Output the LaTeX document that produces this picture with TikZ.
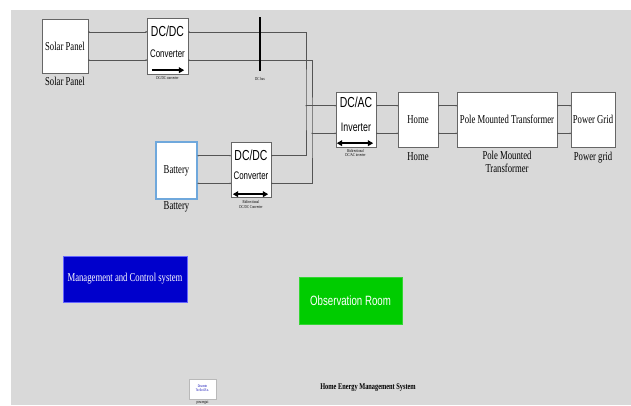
\documentclass[tikz,border=0pt]{standalone}
\usepackage{fontspec}
\setmainfont{Liberation Serif}
\setsansfont{Liberation Sans}
\usepackage{graphicx}
\usetikzlibrary{arrows.meta,positioning,calc}

\definecolor{canvas}{HTML}{D9D9D9}
\definecolor{mcsblue}{HTML}{0000CC}
\definecolor{obsgreen}{HTML}{00CC00}
\definecolor{batblue}{HTML}{6FA8DC}
\definecolor{wirecol}{HTML}{555555}
\newcommand{\sq}[1]{\scalebox{0.72}[1]{#1}}
\newcommand{\sqstack}[1]{\scalebox{0.72}[1]{\begin{tabular}{@{}c@{}}#1\end{tabular}}}

\begin{document}
\begin{tikzpicture}[x=0.4mm, y=-0.4mm,
  blk/.style={draw=gray!80!black, fill=white, line width=0.4pt, inner sep=0pt},
  lbl/.style={font=\fontsize{13.7}{15.3}\selectfont, inner sep=0pt},
  conv/.style={font=\sffamily\fontsize{16.5}{18}\selectfont, inner sep=0pt},
  convsub/.style={font=\sffamily\fontsize{12.5}{14}\selectfont, inner sep=0pt},
  tinylbl/.style={font=\fontsize{5}{5.6}\selectfont, inner sep=0pt},
  wire/.style={draw=wirecol, line width=0.5pt, {Circle[length=1.6pt]}-{Circle[length=1.6pt]}},
  branch/.style={draw=wirecol, line width=0.5pt, -{Circle[length=1.6pt]}},
  flow/.style={line width=1.8pt, -{Triangle[length=6pt,width=6.5pt]}},
  bothflow/.style={line width=1.8pt, {Triangle[length=6pt,width=6.5pt]}-{Triangle[length=6pt,width=6.5pt]}},
]
\useasboundingbox (0,0) rectangle (631,405);
\fill[canvas] (11,10) rectangle (631,405);

% source side
\node[blk, lbl, minimum width=18.4mm, minimum height=21.6mm] (sp) at (65,46) {\sq{Solar Panel}};
\node[blk, minimum width=16.4mm, minimum height=22.4mm] (dc1) at (167.5,46) {};
\node[blk, draw=batblue, line width=1.2pt, lbl, minimum width=16.4mm, minimum height=22.8mm] (bat) at (176.5,170.5) {\sq{Battery}};
\node[blk, minimum width=16mm, minimum height=22mm] (dc2) at (251,169.5) {};

% load / grid side
\node[blk, minimum width=16mm, minimum height=22mm] (dcac) at (356,119.5) {};
\node[blk, lbl, minimum width=16mm, minimum height=22mm] (home) at (418,119.5) {\sq{Home}};
\node[blk, lbl, minimum width=40mm, minimum height=22mm] (pmt) at (507,119.5) {\sq{Pole Mounted Transformer}};
\node[blk, lbl, minimum width=17.6mm, minimum height=22mm] (grid) at (593,119.5) {\sq{Power Grid}};

% converter faces
\node[conv] (dc1a) at ($(dc1.north)+(0,13)$) {\sq{DC/DC}};
\node[convsub] (dc1b) at ($(dc1.north)+(0,36)$) {\sq{Converter}};
\draw[flow] ($(dc1.south west)+(5,-4)$) -- ($(dc1.south east)+(-4,-4)$);
\node[conv] (dc2a) at ($(dc2.north)+(0,13)$) {\sq{DC/DC}};
\node[convsub] (dc2b) at ($(dc2.north)+(0,34)$) {\sq{Converter}};
\draw[bothflow] ($(dc2.south west)+(2,-3)$) -- ($(dc2.south east)+(-3,-3)$);
\node[conv] (dcaca) at ($(dcac.north)+(0,10)$) {\sq{DC/AC}};
\node[convsub, font=\sffamily\fontsize{14}{16}\selectfont] (dcacb) at ($(dcac.north)+(0,35)$) {\sq{Inverter}};
\draw[bothflow] ($(dcac.south west)+(1,-4)$) -- ($(dcac.south east)+(-3,-4)$);

% port points
\coordinate (dc1i1) at ($(dc1.north west)!.25!(dc1.south west)$);
\coordinate (dc1i2) at ($(dc1.north west)!.75!(dc1.south west)$);
\coordinate (dc1o1) at ($(dc1.north east)!.25!(dc1.south east)$);
\coordinate (dc1o2) at ($(dc1.north east)!.75!(dc1.south east)$);
\coordinate (dc2i1) at ($(dc2.north west)!.25!(dc2.south west)$);
\coordinate (dc2i2) at ($(dc2.north west)!.75!(dc2.south west)$);
\coordinate (dc2o1) at ($(dc2.north east)!.25!(dc2.south east)$);
\coordinate (dc2o2) at ($(dc2.north east)!.75!(dc2.south east)$);
\coordinate (aci1) at ($(dcac.north west)!.25!(dcac.south west)$);
\coordinate (aci2) at ($(dcac.north west)!.75!(dcac.south west)$);
\coordinate (ac1) at ($(dcac.north east)!.25!(dcac.south east)$);
\coordinate (ac2) at ($(dcac.north east)!.75!(dcac.south east)$);
\coordinate (pm1) at ($(pmt.north east)!.25!(pmt.south east)$);
\coordinate (pm2) at ($(pmt.north east)!.75!(pmt.south east)$);
\coordinate (bendA) at (306,0);
\coordinate (bendB) at (312,0);
\coordinate (j1) at (aci1 -| bendA);
\coordinate (j2) at (aci2 -| bendB);

% wiring
\draw[wire] (dc1i1 -| sp.east) -- (dc1i1);
\draw[wire] (dc1i2 -| sp.east) -- (dc1i2);
\draw[wire] (dc1o1) -| (j1) |- (dc2o1);
\draw[wire] (dc1o2) -| (j2) |- (dc2o2);
\draw[wire] (dc2i1 -| bat.east) -- (dc2i1);
\draw[wire] (dc2i2 -| bat.east) -- (dc2i2);
\draw[branch] (j1) -- (aci1);
\draw[branch] (j2) -- (aci2);
\fill[wirecol] (j1) circle (0.7pt) (j2) circle (0.7pt);
\draw[wire] (ac1) -- (ac1 -| home.west);
\draw[wire] (ac2) -- (ac2 -| home.west);
\draw[wire] (ac1 -| home.east) -- (ac1 -| pmt.west);
\draw[wire] (ac2 -| home.east) -- (ac2 -| pmt.west);
\draw[wire] (pm1) -- (pm1 -| grid.west);
\draw[wire] (pm2) -- (pm2 -| grid.west);

% DC bus bar
\node[fill=black, inner sep=0pt, minimum width=0.8mm, minimum height=21.6mm] (bus) at (260,44) {};

% block names
\node[lbl] (splbl) at (65,81.5) {\sq{Solar Panel}};
\node[lbl] (batlbl) at (176.5,207) {\sq{Battery}};
\node[lbl] (homelbl) at (418,157) {\sq{Home}};
\node[lbl] (pmtlbl) at (507,163.5) {\sqstack{Pole Mounted\\Transformer}};
\node[lbl] (gridlbl) at (593,157.5) {\sq{Power grid}};
\node[tinylbl] (dc1lbl) at (167.5,78) {\sq{DC/DC converter}};
\node[tinylbl] (buslbl) at (260,78.5) {\sq{DC bus}};
\node[tinylbl] (dc2lbl) at (251,205) {\sqstack{Bidirectional\\DC/DC Converter}};
\node[tinylbl] (dcaclbl) at (355.5,153.5) {\sqstack{Bidirectional\\DC/AC inverter}};

% lower blocks
\node[lbl, draw=blue!60, fill=mcsblue, text=white, line width=0.6pt, minimum width=49.6mm, minimum height=18.4mm] (mcs) at (125,279) {\sq{Management and Control system}};
\node[draw=obsgreen!80!white, fill=obsgreen, text=white, inner sep=0pt, font=\sffamily\fontsize{15.3}{17}\selectfont, minimum width=41.2mm, minimum height=18.8mm] (obs) at (350.5,300.5) {\sq{Observation Room}};
\node[draw=gray!55, fill=white, line width=1pt, inner sep=0pt, text=blue!70!black, font=\sffamily\fontsize{4}{4.8}\selectfont, minimum width=10.8mm, minimum height=8mm] (pg) at (202.5,389) {\sqstack{Discrete\\Ts=5e-05 s.}};
\node[tinylbl] (pglbl) at (202.5,402.5) {\sq{powergui}};
\node[font=\bfseries\fontsize{10}{12}\selectfont, inner sep=0pt] (title) at (368,388) {\sq{Home Energy Management System}};
\end{tikzpicture}
\end{document}
